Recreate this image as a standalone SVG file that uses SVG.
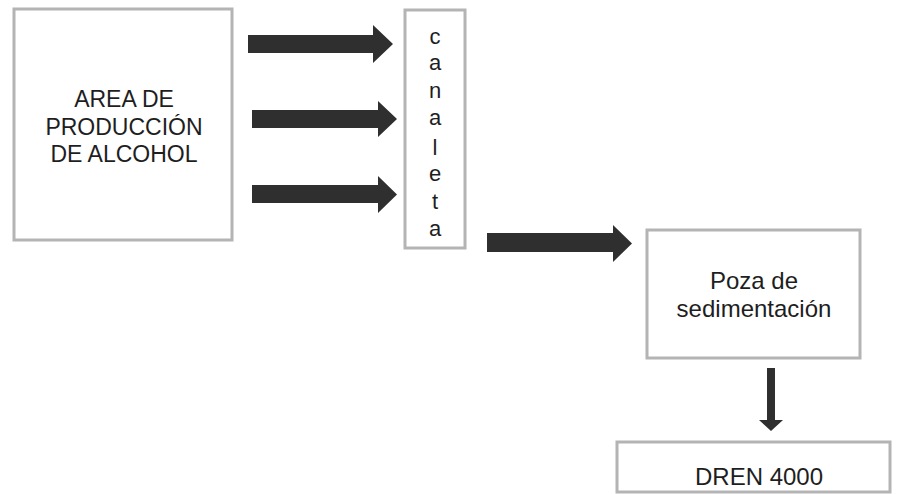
<svg xmlns="http://www.w3.org/2000/svg" width="897" height="494" viewBox="0 0 897 494">
<style>
.box{fill:#fff;stroke:#b4b4b4;stroke-width:3}
.t{font-family:"Liberation Sans",Arial,sans-serif;font-size:24px;fill:#1e1e1e;text-anchor:middle}
.s23{font-size:23px}
.s22{font-size:22px}
.arr{fill:#2f2f2f}
</style>
<rect width="897" height="494" fill="#fff"/>
<g id="area">
<rect class="box" x="14" y="9" width="218" height="231"/>
<text class="t s23" x="124" y="107">AREA DE</text>
<text class="t s23" x="124" y="135">PRODUCCIÓN</text>
<text class="t s23" x="124" y="162">DE ALCOHOL</text>
</g>
<g id="canaleta">
<rect class="box" x="405" y="10" width="60" height="238"/>
<text class="t s22" x="435" y="44">c</text>
<text class="t s22" x="435" y="70">a</text>
<text class="t s22" x="435" y="98">n</text>
<text class="t s22" x="435" y="125">a</text>
<text class="t s22" x="435" y="155">l</text>
<text class="t s22" x="435" y="181">e</text>
<text class="t s22" x="435" y="209">t</text>
<text class="t s22" x="435" y="236">a</text>
</g>
<g id="poza">
<rect class="box" x="647" y="230" width="213" height="128"/>
<text class="t" x="754" y="289">Poza de</text>
<text class="t" x="754" y="317">sedimentación</text>
</g>
<g id="dren">
<rect class="box" x="617" y="442" width="273" height="50"/>
<text class="t" x="759" y="485">DREN 4000</text>
</g>
<g id="connectors">
<polygon class="arr" points="248,35 373,35 373,25 393,44 373,63 373,53 248,53"/>
<polygon class="arr" points="252,110 378,110 378,101 397,119 378,137 378,128 252,128"/>
<polygon class="arr" points="252,185 378,185 378,176 397,194.5 378,213 378,203 252,203"/>
<polygon class="arr" points="487,233 613,233 613,225 632,243.5 613,262 613,252 487,252"/>
<polygon class="arr" points="767,368 775,368 775,420 783,420 771,431 759,420 767,420"/>
</g>
</svg>
